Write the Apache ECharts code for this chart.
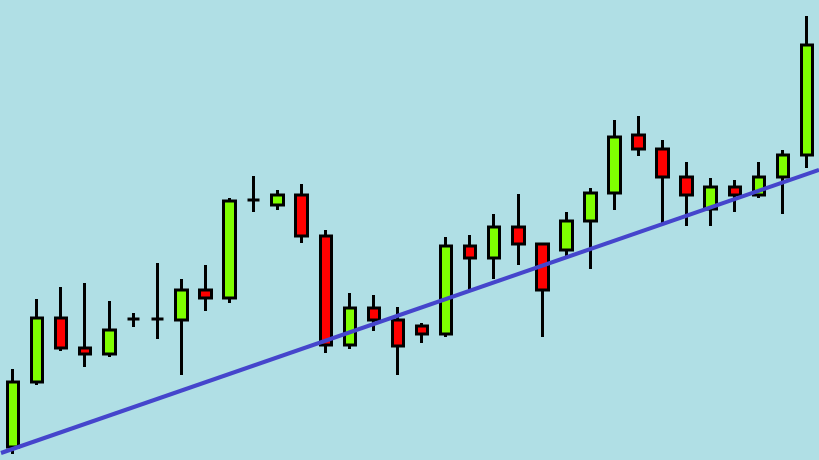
<!DOCTYPE html>
<html>
<head>
<meta charset="utf-8">
<script src="https://cdn.jsdelivr.net/npm/echarts@6/dist/echarts.min.js"></script>
<style>html,body{margin:0;padding:0;background:#b0dfe5;}#c{width:819px;height:460px;}</style>
</head>
<body>
<div id="c"></div>
<script>
var categories = ['1','2','3','4','5','6','7','8','9','10','11','12','13','14','15','16','17','18','19','20','21','22','23','24','25','26','27','28','29','30','31','32','33','34'];
var opens  = [13, 78,142,112,106,141,141,140,170,162,260,255,265,224,115,152,140,134,126,214,202,233,216,210,239,267,325,311,283,251,273,265,283,305];
var closes = [78,142,112,106,130,141,141,170,162,259,260,265,224,115,152,140,114,126,214,202,233,216,170,239,267,323,311,283,265,273,265,283,305,415];
var lows   = [ 6, 75,109, 93,103,133,121, 85,149,157,248,250,217,107,111,129, 85,117,123,169,181,195,123,204,191,250,304,237,234,234,248,262,246,292];
var highs  = [91,161,173,177,159,147,197,181,195,262,284,270,276,230,167,165,153,137,223,225,246,266,217,248,272,340,344,320,298,282,280,298,310,444];
var trendX = [0, 1];
var trendY = [7, 290];

var candleData = categories.map(function (c, i) { return [opens[i], closes[i], lows[i], highs[i]]; });
var trendData = trendX.map(function (x, i) { return [x, trendY[i]]; });

var chart = echarts.init(document.getElementById('c'));
chart.setOption({
  backgroundColor: '#b0dfe5',
  animation: false,
  grid: { left: 1, right: -1, top: 0, bottom: 0 },
  xAxis: [
    { type: 'category', data: categories, show: false, boundaryGap: true },
    { type: 'value', min: 0, max: 1, show: false }
  ],
  yAxis: { type: 'value', min: 0, max: 460, show: false, splitLine: { show: false } },
  series: [
    {
      type: 'candlestick',
      xAxisIndex: 0,
      data: candleData,
      barWidth: 12,
      itemStyle: {
        color: '#7fff00',
        color0: '#ff0000',
        borderColor: '#000000',
        borderColor0: '#000000',
        borderColorDoji: '#000000',
        borderWidth: 3
      },
      z: 2
    },
    {
      type: 'line',
      xAxisIndex: 1,
      data: trendData,
      symbol: 'none',
      lineStyle: { color: '#4545cc', width: 4 },
      z: 3
    }
  ]
});
</script>
</body>
</html>
